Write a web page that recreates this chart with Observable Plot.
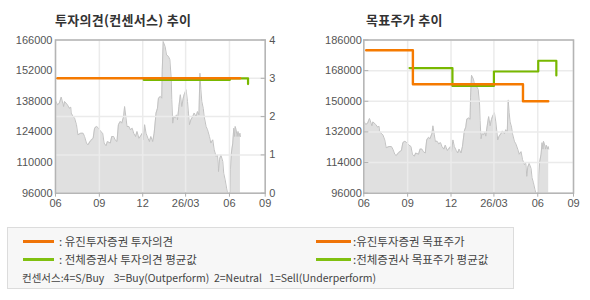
<!DOCTYPE html>
<html><head><meta charset="utf-8">
<script src="https://cdn.jsdelivr.net/npm/d3@7"></script>
<script src="https://cdn.jsdelivr.net/npm/@observablehq/plot@0.6"></script>
<style>
html,body{margin:0;padding:0;}
body{width:590px;height:300px;background:#fff;position:relative;overflow:hidden;font-family:"Noto Sans CJK KR","Noto Sans",sans-serif;}
.abs{position:absolute;}
.title{font-weight:bold;font-size:13px;letter-spacing:0.3px;color:#333;line-height:14px;white-space:nowrap;}
#legend{position:absolute;left:7px;top:227px;width:507px;height:62px;box-sizing:border-box;background:#f7f7f7;border:1px solid #dcdcdc;}
.sw{position:absolute;height:3px;}
.lt{position:absolute;font-size:11.5px;line-height:14px;color:#444;white-space:pre;}
.note{font-size:10.5px;}
</style></head><body>
<div class="abs title" style="left:55px;top:13px;">투자의견(컨센서스) 추이</div>
<div class="abs title" style="left:366px;top:13px;">목표주가 추이</div>
<div id="left" class="abs" style="left:0;top:0;"></div>
<div id="leftOver" class="abs" style="left:0;top:0;"></div>
<div id="right" class="abs" style="left:295px;top:0;"></div>
<div id="legend"></div>
<script>
// ---- data ----
const priceDates = ["2025-06-02","2025-06-05","2025-06-09","2025-06-13","2025-06-18","2025-06-20","2025-06-26","2025-06-30","2025-07-03","2025-07-04","2025-07-08","2025-07-11","2025-07-15","2025-07-18","2025-07-24","2025-07-29","2025-08-01","2025-08-05","2025-08-08","2025-08-14","2025-08-19","2025-08-22","2025-08-26","2025-08-29","2025-09-04","2025-09-08","2025-09-11","2025-09-15","2025-09-18","2025-09-24","2025-09-27","2025-10-01","2025-10-04","2025-10-08","2025-10-11","2025-10-15","2025-10-18","2025-10-22","2025-10-24","2025-10-27","2025-10-29","2025-11-02","2025-11-05","2025-11-09","2025-11-12","2025-11-16","2025-11-19","2025-11-23","2025-11-26","2025-11-30","2025-12-02","2025-12-05","2025-12-08","2025-12-12","2025-12-15","2025-12-18","2025-12-22","2025-12-25","2025-12-29","2026-01-01","2026-01-03","2026-01-07","2026-01-10","2026-01-11","2026-01-13","2026-01-17","2026-01-20","2026-01-24","2026-01-27","2026-01-30","2026-01-31","2026-02-02","2026-02-04","2026-02-07","2026-02-10","2026-02-12","2026-02-15","2026-02-18","2026-02-21","2026-02-24","2026-02-26","2026-03-02","2026-03-05","2026-03-07","2026-03-09","2026-03-12","2026-03-16","2026-03-19","2026-03-23","2026-03-26","2026-03-29","2026-03-31","2026-04-02","2026-04-04","2026-04-07","2026-04-09","2026-04-13","2026-04-16","2026-04-20","2026-04-23","2026-04-27","2026-04-30","2026-05-04","2026-05-07","2026-05-09","2026-05-11","2026-05-14","2026-05-18","2026-05-20","2026-05-23","2026-05-26","2026-05-28","2026-05-31","2026-06-02","2026-06-03","2026-06-05","2026-06-08","2026-06-10","2026-06-12","2026-06-13","2026-06-15","2026-06-17","2026-06-19","2026-06-21","2026-06-23","2026-06-24"];
const priceValues = [137900,136400,137100,139900,135600,137900,136400,134800,135300,132600,131000,130300,127300,122700,123400,123400,121900,118900,118100,120100,121100,125700,126500,126000,124200,123400,118900,117700,119600,118900,121900,121900,120400,119600,127300,128800,128000,131000,135600,130300,126500,126500,125000,125700,123400,121900,124200,121100,121900,123400,120400,127300,123400,121100,119600,121900,119600,123400,132600,134800,139400,140200,139400,152400,165300,163000,159200,158500,157000,147800,138700,128000,131000,130300,131800,129500,135600,141000,135600,139400,141000,143300,137900,132600,127300,129500,131000,132600,131000,133300,131800,150800,143300,137900,134800,131000,126500,125000,121900,118900,120400,115800,112800,113500,105900,111300,113500,110500,105100,102100,98300,96000,93000,93000,106700,114300,118900,125700,121900,126500,125000,121900,124200,121900,123400,121900];

const opinionDates = ["2025-06-05","2026-06-23"];          // 유진투자증권 투자의견
const opinionValues = [3, 3];
const avgOpinionDates = ["2025-12-03","2026-06-02","2026-07-10"]; // 전체증권사 평균
const avgOpinionValues = [2.96, 3, 2.85];

const targetDates = ["2025-06-06","2025-09-12","2026-05-01","2026-06-23"]; // 유진투자증권 목표주가
const targetValues = [180000, 160000, 150000, 150000];
const avgTargetDates = ["2025-09-05","2025-12-04","2026-03-01","2026-06-02","2026-07-10"]; // 전체증권사 평균
const avgTargetValues = [169500, 159000, 167500, 173800, 165200];

const xTickDates = ["2025-06-01","2025-09-01","2025-12-01","2026-03-01","2026-06-01","2026-08-15"];
const xTickLabels = ["06","09","12","26/03","06","09"];
const leftPriceTicks = [96000,110000,124000,138000,152000,166000];
const opinionTicks = [0,1,2,3,4];
const rightPriceTicks = [96000,114000,132000,150000,168000,186000];

const legendRows = [
  {col: 0, row: 0, color: "#ef7408", text: ": 유진투자증권 투자의견"},
  {col: 0, row: 1, color: "#80c010", text: ": 전체증권사 투자의견 평균값"},
  {col: 1, row: 0, color: "#ef7408", text: ":유진투자증권 목표주가"},
  {col: 1, row: 1, color: "#80c010", text: ":전체증권사 목표주가 평균값"}
];
const consensusNote = "컨센서스:4=S/Buy    3=Buy(Outperform)  2=Neutral   1=Sell(Underperform)";

// ---- build ----
const P = s => new Date(s);
const price = priceDates.map((d, i) => ({date: P(d), v: priceValues[i]}));
const op = opinionDates.map((d, i) => ({date: P(d), v: opinionValues[i]}));
const avgOp = avgOpinionDates.map((d, i) => ({date: P(d), v: avgOpinionValues[i]}));
const tgt = targetDates.map((d, i) => ({date: P(d), v: targetValues[i]}));
const avgTgt = avgTargetDates.map((d, i) => ({date: P(d), v: avgTargetValues[i]}));
const xTicks = xTickDates.map(P);
const labelMap = new Map(xTicks.map((d, i) => [+d, xTickLabels[i]]));

const ORANGE = "#f57a00", GREEN = "#78b800";
const W = 295, H = 215;
const xDomain = [P("2025-06-01"), P("2026-08-15")];
const style = {fontFamily: "'Liberation Sans', Arial, sans-serif", fontSize: "11px", color: "#555", background: "transparent", overflow: "visible"};
const leftMargins = {marginLeft: 55, marginRight: 30.3, marginTop: 39.5, marginBottom: 22.3};
const rightMargins = {marginLeft: 68.3, marginRight: 17, marginTop: 39.5, marginBottom: 22.3};

// Left: price background
const leftBase = Plot.plot({
  width: W, height: H, ...leftMargins, style,
  x: {type: "utc", domain: xDomain, axis: null},
  y: {domain: [96000, 166000], axis: null},
  marks: [
    Plot.areaY(price, {x: "date", y: "v", fill: "#e0e0e0", clip: true}),
    Plot.lineY(price, {x: "date", y: "v", stroke: "#c2c2c2", strokeWidth: 1, clip: true}),
    Plot.axisY({anchor: "left", ticks: leftPriceTicks, tickSize: 0, tickPadding: 3, label: null, fill: "#555", tickFormat: d => String(d)})
  ]
});
document.getElementById("left").appendChild(leftBase);

// Left: opinion overlay
const leftOver = Plot.plot({
  width: W, height: H, ...leftMargins, style,
  x: {type: "utc", domain: xDomain, axis: null},
  y: {domain: [0, 4], axis: null},
  marks: [
    Plot.gridX({ticks: xTicks, stroke: "#ebebeb", strokeOpacity: 1, strokeWidth: 1.5}),
    Plot.gridY({ticks: opinionTicks, stroke: "#ebebeb", strokeOpacity: 1, strokeWidth: 1.5}),
    Plot.axisY({anchor: "right", ticks: opinionTicks, tickSize: 5, dx: -5, tickFormat: () => "", stroke: "#b0b0b0", label: null}),
    Plot.lineY(avgOp, {x: "date", y: "v", curve: "step-after", stroke: GREEN, strokeWidth: 2.2}),
    Plot.lineY(op, {x: "date", y: "v", curve: "step-after", stroke: ORANGE, strokeWidth: 2.4}),
    Plot.frame({stroke: "#b4b4b4", strokeWidth: 1.5}),
    Plot.axisY({anchor: "right", ticks: opinionTicks, tickSize: 0, tickPadding: 4, label: null, fill: "#555", tickFormat: d => String(d)}),
    Plot.axisX({ticks: xTicks, tickSize: 4, tickPadding: 2, stroke: "#b0b0b0", fill: "#555", label: null, tickFormat: d => labelMap.get(+d)})
  ]
});
document.getElementById("leftOver").appendChild(leftOver);

// Right: target price
const right = Plot.plot({
  width: W, height: H, ...rightMargins, style,
  x: {type: "utc", domain: xDomain, axis: null},
  y: {domain: [96000, 186000], axis: null},
  marks: [
    Plot.areaY(price, {x: "date", y: "v", fill: "#e0e0e0", clip: true}),
    Plot.lineY(price, {x: "date", y: "v", stroke: "#c2c2c2", strokeWidth: 1, clip: true}),
    Plot.gridX({ticks: xTicks, stroke: "#ebebeb", strokeOpacity: 1, strokeWidth: 1.5}),
    Plot.gridY({ticks: rightPriceTicks, stroke: "#ebebeb", strokeOpacity: 1, strokeWidth: 1.5}),
    Plot.axisY({anchor: "left", ticks: rightPriceTicks, tickSize: 5, dx: 5, tickFormat: () => "", stroke: "#b0b0b0", label: null}),
    Plot.lineY(avgTgt, {x: "date", y: "v", curve: "step-after", stroke: GREEN, strokeWidth: 2.2}),
    Plot.lineY(tgt, {x: "date", y: "v", curve: "step-after", stroke: ORANGE, strokeWidth: 2.4}),
    Plot.frame({stroke: "#b4b4b4", strokeWidth: 1.5}),
    Plot.axisY({anchor: "left", ticks: rightPriceTicks, tickSize: 0, tickPadding: 2, label: null, fill: "#555", tickFormat: d => String(d)}),
    Plot.axisX({ticks: xTicks, tickSize: 4, tickPadding: 2, stroke: "#b0b0b0", fill: "#555", label: null, tickFormat: d => labelMap.get(+d)})
  ]
});
document.getElementById("right").appendChild(right);

// Legend
const lg = document.getElementById("legend");
const rowY = [13.7, 31.3];
const colSw = [{x: 15, w: 31, tx: 51}, {x: 308, w: 35, tx: 345}];
for (const r of legendRows) {
  const c = colSw[r.col];
  const sw = document.createElement("div");
  sw.className = "sw";
  sw.style.left = c.x + "px"; sw.style.width = c.w + "px";
  sw.style.top = (rowY[r.row] - 1.5) + "px"; sw.style.background = r.color;
  lg.appendChild(sw);
  const t = document.createElement("div");
  t.className = "lt"; t.textContent = r.text;
  t.style.left = c.tx + "px"; t.style.top = (rowY[r.row] - 7.5) + "px";
  lg.appendChild(t);
}
const note = document.createElement("div");
note.className = "lt note"; note.textContent = consensusNote;
note.style.left = "14px"; note.style.top = (50.3 - 7.5) + "px";
lg.appendChild(note);
</script>
</body></html>
